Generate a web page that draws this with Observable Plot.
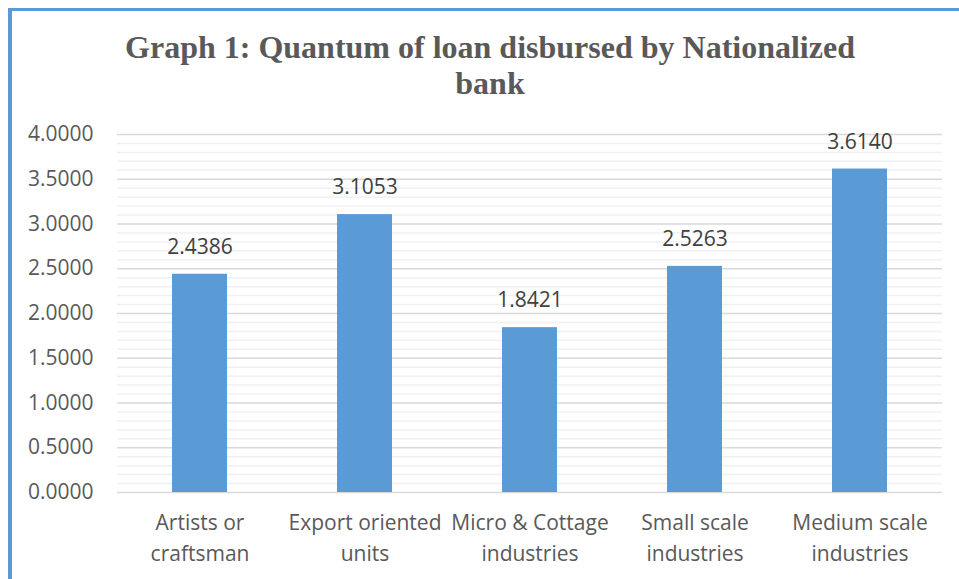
<!DOCTYPE html>
<html>
<head>
<meta charset="utf-8">
<script src="https://cdn.jsdelivr.net/npm/d3@7"></script>
<script src="https://cdn.jsdelivr.net/npm/@observablehq/plot@0.6"></script>
<style>
  html, body { margin: 0; padding: 0; background: #fff; }
  #wrap { position: relative; width: 959px; height: 579px; overflow: hidden; }
  #frame { position: absolute; left: 8px; top: 8px; right: -10px; bottom: -10px;
           border-left: 4px solid #5b9bd5; border-top: 3px solid #5b9bd5; pointer-events: none; }
  #title { position: absolute; left: 0; width: 980px; top: 29px; text-align: center;
           font-family: "Liberation Serif", "Times New Roman", serif; font-weight: bold;
           font-size: 32px; line-height: 36px; color: #595959; }
  #chart { position: absolute; left: 0; top: 0; }
</style>
</head>
<body>
<div id="wrap">
  <div id="chart"></div>
  <div id="title">Graph 1: Quantum of loan disbursed by Nationalized<br>bank</div>
  <div id="frame"></div>
</div>
<script>
const categories = ["Artists or craftsman", "Export oriented units", "Micro & Cottage industries", "Small scale industries", "Medium scale industries"];
const tickLabels = ["Artists or\ncraftsman", "Export oriented\nunits", "Micro & Cottage\nindustries", "Small scale\nindustries", "Medium scale\nindustries"];
const values = [2.4386, 3.1053, 1.8421, 2.5263, 3.6140];
const yTicks = [0, 0.5, 1, 1.5, 2, 2.5, 3, 3.5, 4];
const yMinor = d3.range(0, 41).map(i => i / 10).filter(v => !yTicks.some(t => Math.abs(t - v) < 1e-9));

const data = categories.map((c, i) => ({category: c, value: values[i]}));
const labelOf = new Map(categories.map((c, i) => [c, tickLabels[i]]));

const chart = Plot.plot({
  width: 959,
  height: 579,
  marginLeft: 117,
  marginRight: 17,
  marginTop: 134,
  marginBottom: 87,
  style: {fontFamily: "'Open Sans', sans-serif", fontSize: "21px", color: "#595959", background: "transparent"},
  x: {domain: categories, paddingInner: 0.667, paddingOuter: 0.333, label: null},
  y: {domain: [0, 4], label: null},
  marks: [
    Plot.ruleY(yMinor, {stroke: "#f0f0f0", strokeWidth: 1.5}),
    Plot.ruleY(yTicks, {stroke: "#d9d9d9", strokeWidth: 1.5}),
    Plot.barY(data, {x: "category", y: "value", fill: "#5b9bd5"}),
    Plot.text(data, {x: "category", y: "value", text: d => d3.format(".4f")(d.value),
      dy: -27, fill: "#404040", fontSize: 21}),
    Plot.axisY(yTicks, {tickSize: 0, tickPadding: 24, tickFormat: d3.format(".4f"), fill: "#595959", fontSize: 21, label: null}),
    Plot.axisX({tickSize: 0, tickPadding: 16, tickFormat: d => labelOf.get(d), lineHeight: 1.45, fill: "#595959", fontSize: 21, label: null})
  ]
});
document.getElementById("chart").appendChild(chart);
</script>
</body>
</html>
